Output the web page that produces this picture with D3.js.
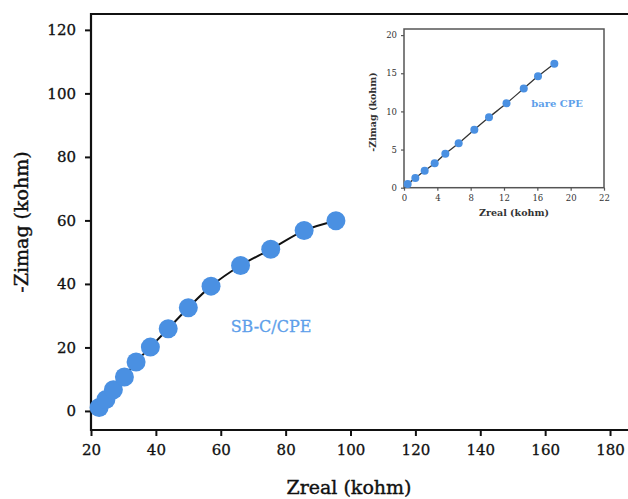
<!DOCTYPE html>
<html>
<head>
<meta charset="utf-8">
<script src="https://cdn.jsdelivr.net/npm/d3@7"></script>
<style>
  html, body { margin: 0; padding: 0; background: #fff; }
  svg { display: block; }
  text { font-family: "DejaVu Serif", serif; }
</style>
</head>
<body>
<svg id="chart" width="628" height="499"></svg>
<script>
// Nyquist data, modified electrode (kohm)
const mainZreal = [22.5, 24.6, 26.9, 30.3, 33.9, 38.3, 43.8, 50.0, 57.0, 66.1, 75.4, 85.7, 95.5];
const mainZimag = [1.1, 3.6, 6.7, 10.7, 15.4, 20.1, 25.9, 32.5, 39.3, 45.8, 50.9, 56.8, 59.9];
const mainXTicks = [20, 40, 60, 80, 100, 120, 140, 160, 180];
const mainYTicks = [0, 20, 40, 60, 80, 100, 120];

// Nyquist data, bare electrode (kohm)
const insetZreal = [0.44, 1.36, 2.48, 3.68, 4.96, 6.56, 8.44, 10.2, 12.3, 14.37, 16.08, 18.04];
const insetZimag = [0.48, 1.27, 2.23, 3.2, 4.46, 5.82, 7.6, 9.22, 11.06, 13.0, 14.6, 16.25];
const insetXTicks = [0, 4, 8, 12, 16, 20, 24];
const insetXTickLabels = ["0", "4", "8", "12", "16", "20", "22"];
const insetYTicks = [0, 5, 10, 15, 20];

const dotColor = "#4a90e2";
const labelColor = "#5e9fea";

const svg = d3.select("#chart");
svg.append("rect").attr("width", 628).attr("height", 499).attr("fill", "#fff");

// ---------- main panel ----------
const x = d3.scaleLinear().domain([20, 186]).range([91, 629.5]);
const y = d3.scaleLinear().domain([-6, 125]).range([430, 14]);

const main = svg.append("g");

const xAxis = main.append("g")
  .attr("transform", `translate(0,${y.range()[0]})`)
  .call(d3.axisBottom(x).tickValues(mainXTicks).tickSize(6).tickPadding(8).tickFormat(d3.format("d")));
const yAxis = main.append("g")
  .attr("transform", `translate(${x.range()[0]},0)`)
  .call(d3.axisLeft(y).tickValues(mainYTicks).tickSize(6).tickPadding(9).tickFormat(d3.format("d")));

[xAxis, yAxis].forEach(g => {
  g.select(".domain").remove();
  g.selectAll(".tick line").attr("stroke", "#111").attr("stroke-width", 2);
  g.selectAll(".tick text")
    .attr("fill", "#111").attr("stroke", "#111").attr("stroke-width", 0.3)
    .style("font-size", "15px").style("font-family", "DejaVu Serif");
});

// spines: left, bottom, top
main.append("path")
  .attr("d", `M${x.range()[1] + 5},${y.range()[1]}H${x.range()[0]}V${y.range()[0]}H${x.range()[1] + 5}`)
  .attr("fill", "none").attr("stroke", "#111").attr("stroke-width", 2.2);

const mainPts = mainZreal.map((v, i) => [v, mainZimag[i]]);
main.append("path")
  .datum(mainPts)
  .attr("fill", "none").attr("stroke", "#111").attr("stroke-width", 2)
  .attr("d", d3.line().x(d => x(d[0])).y(d => y(d[1])).curve(d3.curveCatmullRom));

main.selectAll("circle.pt").data(mainPts).join("circle")
  .attr("class", "pt")
  .attr("cx", d => x(d[0])).attr("cy", d => y(d[1]))
  .attr("r", 9.5).attr("fill", dotColor);

main.append("text")
  .attr("x", 271).attr("y", 332)
  .attr("text-anchor", "middle")
  .attr("fill", labelColor).attr("stroke", labelColor).attr("stroke-width", 0.3)
  .style("font-size", "16px")
  .text("SB-C/CPE");

main.append("text")
  .attr("x", 349).attr("y", 494)
  .attr("text-anchor", "middle")
  .attr("fill", "#111").attr("stroke", "#111").attr("stroke-width", 0.4)
  .style("font-size", "19px")
  .text("Zreal (kohm)");

main.append("text")
  .attr("transform", `translate(28,222) rotate(-90)`)
  .attr("text-anchor", "middle")
  .attr("fill", "#111").attr("stroke", "#111").attr("stroke-width", 0.4)
  .style("font-size", "19px")
  .text("-Zimag (kohm)");

// ---------- inset panel ----------
const ix = d3.scaleLinear().domain([0, 24]).range([404, 604]);
const iy = d3.scaleLinear().domain([0, 20.8]).range([187.7, 29]);

const inset = svg.append("g");
inset.append("rect")
  .attr("x", ix.range()[0]).attr("y", iy.range()[1])
  .attr("width", ix.range()[1] - ix.range()[0]).attr("height", iy.range()[0] - iy.range()[1])
  .attr("fill", "#fff").attr("stroke", "#555").attr("stroke-width", 1.5);

const ixAxis = inset.append("g")
  .attr("transform", `translate(0,${iy.range()[0]})`)
  .call(d3.axisBottom(ix).tickValues(insetXTicks).tickSize(3).tickPadding(4)
    .tickFormat((d, i) => insetXTickLabels[i]));
const iyAxis = inset.append("g")
  .attr("transform", `translate(${ix.range()[0]},0)`)
  .call(d3.axisLeft(iy).tickValues(insetYTicks).tickSize(3).tickPadding(4).tickFormat(d3.format("d")));

[ixAxis, iyAxis].forEach(g => {
  g.select(".domain").remove();
  g.selectAll(".tick line").attr("stroke", "#555").attr("stroke-width", 1.2);
  g.selectAll(".tick text").attr("fill", "#333").style("font-size", "8.5px").style("font-family", "DejaVu Serif");
});

const insetPts = insetZreal.map((v, i) => [v, insetZimag[i]]);
inset.append("path")
  .datum(insetPts)
  .attr("fill", "none").attr("stroke", "#333").attr("stroke-width", 1.3)
  .attr("d", d3.line().x(d => ix(d[0])).y(d => iy(d[1])).curve(d3.curveCatmullRom));

inset.selectAll("circle.ipt").data(insetPts).join("circle")
  .attr("class", "ipt")
  .attr("cx", d => ix(d[0])).attr("cy", d => iy(d[1]))
  .attr("r", 4).attr("fill", dotColor);

inset.append("text")
  .attr("x", 557).attr("y", 107)
  .attr("text-anchor", "middle").attr("fill", labelColor)
  .style("font-size", "10px").style("font-weight", "bold")
  .text("bare CPE");

inset.append("text")
  .attr("x", 514).attr("y", 216)
  .attr("text-anchor", "middle").attr("fill", "#333").style("font-size", "9.5px").style("font-weight", "bold")
  .text("Zreal (kohm)");

inset.append("text")
  .attr("transform", `translate(376,112) rotate(-90)`)
  .attr("text-anchor", "middle").attr("fill", "#333").style("font-size", "9.5px").style("font-weight", "bold")
  .text("-Zimag (kohm)");
</script>
</body>
</html>
